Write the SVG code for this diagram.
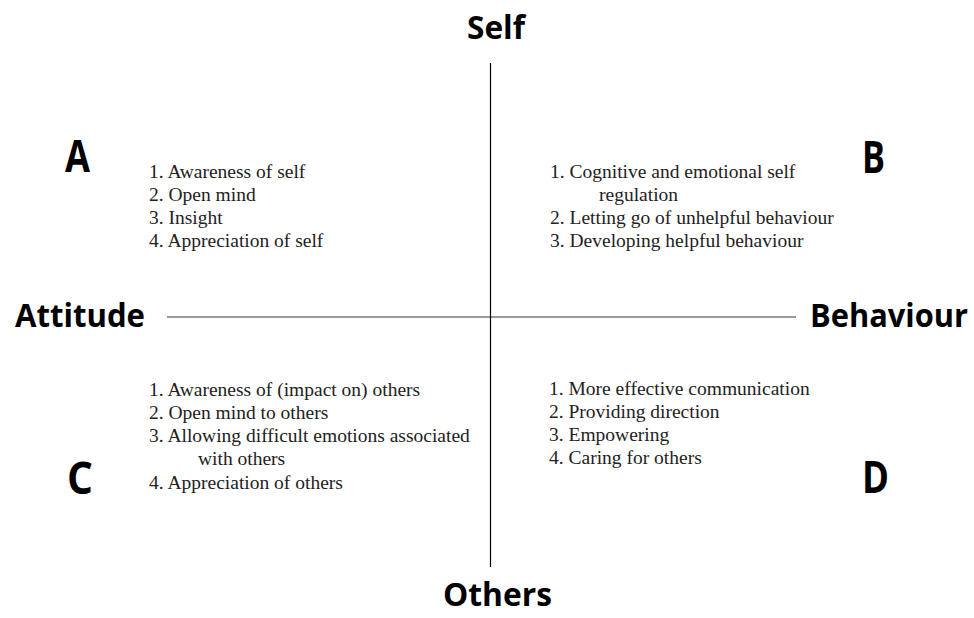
<svg xmlns="http://www.w3.org/2000/svg" width="974" height="618" viewBox="0 0 974 618">
<style>
.hd{font-family:"Open Sans","Noto Sans","Liberation Sans",sans-serif;font-weight:bold;fill:#000}
.ax{font-size:32px}
.q{font-size:44px}
.li{font-family:"Liberation Serif","Times New Roman",serif;font-size:19.5px;fill:#222}
</style>
<rect width="974" height="618" fill="#fff"/>
<g id="connectors">
<line x1="167" y1="317" x2="796" y2="317" stroke="#7a7a7a" stroke-width="1.6"/>
<line x1="490.5" y1="63" x2="490.5" y2="567" stroke="#000" stroke-width="1.2"/>
</g>
<g id="self"><text class="hd ax" x="467" y="39" textLength="58" lengthAdjust="spacingAndGlyphs">Self</text></g>
<g id="attitude"><text class="hd ax" x="15" y="327" textLength="130" lengthAdjust="spacingAndGlyphs">Attitude</text></g>
<g id="behaviour"><text class="hd ax" x="810" y="327" textLength="158" lengthAdjust="spacingAndGlyphs">Behaviour</text></g>
<g id="others"><text class="hd ax" x="443" y="606" textLength="109" lengthAdjust="spacingAndGlyphs">Others</text></g>
<g id="quadA">
<text class="hd q" x="65" y="172" textLength="25" lengthAdjust="spacingAndGlyphs">A</text>
<text class="li" x="149" y="178">1. Awareness of self</text>
<text class="li" x="149" y="201">2. Open mind</text>
<text class="li" x="149" y="224">3. Insight</text>
<text class="li" x="149" y="247">4. Appreciation of self</text>
</g>
<g id="quadB">
<text class="hd q" x="862" y="173" textLength="23" lengthAdjust="spacingAndGlyphs">B</text>
<text class="li" x="550" y="178">1. Cognitive and emotional self</text>
<text class="li" x="599" y="201">regulation</text>
<text class="li" x="550" y="224">2. Letting go of unhelpful behaviour</text>
<text class="li" x="550" y="247">3. Developing helpful behaviour</text>
</g>
<g id="quadC">
<text class="hd q" x="67" y="494" textLength="26" lengthAdjust="spacingAndGlyphs">C</text>
<text class="li" x="149" y="396">1. Awareness of (impact on) others</text>
<text class="li" x="149" y="419">2. Open mind to others</text>
<text class="li" x="149" y="442">3. Allowing difficult emotions associated</text>
<text class="li" x="198" y="465">with others</text>
<text class="li" x="149" y="489">4. Appreciation of others</text>
</g>
<g id="quadD">
<text class="hd q" x="862" y="493" textLength="27" lengthAdjust="spacingAndGlyphs">D</text>
<text class="li" x="549" y="395">1. More effective communication</text>
<text class="li" x="549" y="418">2. Providing direction</text>
<text class="li" x="549" y="441">3. Empowering</text>
<text class="li" x="549" y="464">4. Caring for others</text>
</g>
</svg>
